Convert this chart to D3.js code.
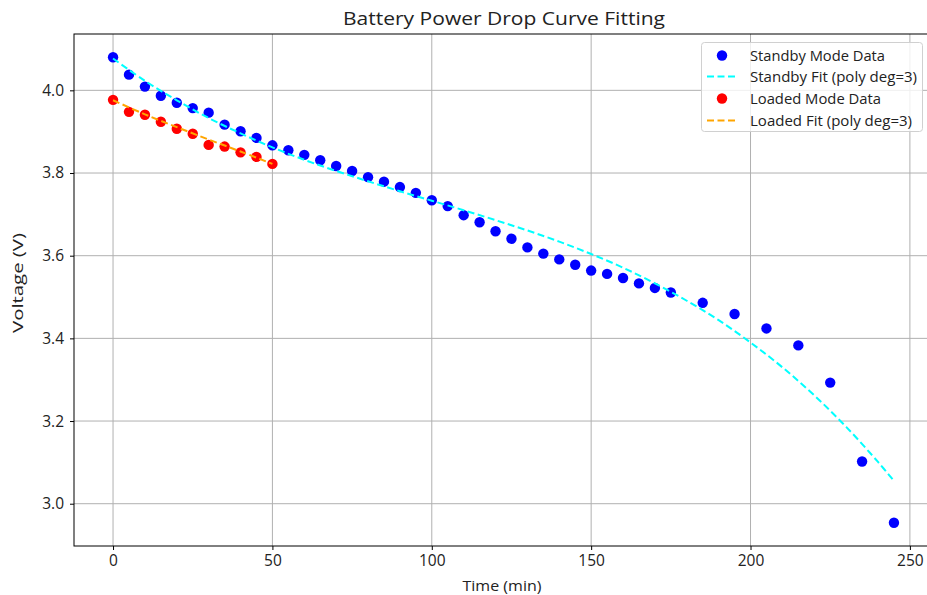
<!DOCTYPE html>
<html>
<head>
<meta charset="utf-8">
<script src="https://cdn.jsdelivr.net/npm/d3@7"></script>
<style>
  html, body { margin: 0; padding: 0; background: #ffffff; }
  svg { display: block; font-family: "Open Sans", "DejaVu Sans", sans-serif; }
</style>
</head>
<body>
<svg id="chart" width="927" height="595"></svg>
<script>
// ---- Data ----
const standbyTime = [0,5,10,15,20,25,30,35,40,45,50,55,60,65,70,75,80,85,90,95,100,105,110,115,120,125,130,135,140,145,150,155,160,165,170,175,185,195,205,215,225,235,245];
const standbyVolt = [4.080,4.038,4.009,3.987,3.970,3.957,3.946,3.917,3.901,3.885,3.867,3.855,3.844,3.831,3.817,3.805,3.790,3.779,3.766,3.752,3.734,3.720,3.698,3.681,3.659,3.641,3.620,3.605,3.591,3.578,3.564,3.556,3.546,3.533,3.522,3.511,3.486,3.459,3.424,3.383,3.293,3.102,2.954];

const loadedTime = [0,5,10,15,20,25,30,35,40,45,50];
const loadedVolt = [3.977,3.948,3.941,3.924,3.907,3.895,3.868,3.864,3.850,3.839,3.822];

// fitted curves
const standbyFitTime = [0,10,20,30,40,50,60,70,80,90,100,110,120,130,140,150,160,170,180,190,200,210,220,230,240,245];
const standbyFitVolt = [4.077,4.023,3.976,3.933,3.896,3.862,3.832,3.805,3.780,3.756,3.733,3.710,3.686,3.661,3.634,3.604,3.571,3.533,3.491,3.444,3.390,3.330,3.262,3.186,3.101,3.055];

const loadedFitTime = [0,10,20,30,40,50];
const loadedFitVolt = [3.976,3.942,3.911,3.881,3.852,3.822];

const xTicks = [0,50,100,150,200,250];
const yTicks = [3.0,3.2,3.4,3.6,3.8,4.0];

const legendLabels = ["Standby Mode Data","Standby Fit (poly deg=3)","Loaded Mode Data","Loaded Fit (poly deg=3)"];

// ---- Layout ----
const svg = d3.select("#chart");
const pL = 74, pR = 933, pT = 34, pB = 546;

const allT = standbyTime.concat(loadedTime);
const allV = standbyVolt.concat(loadedVolt);
const tMin = d3.min(allT), tMax = d3.max(allT);
const vMin = d3.min(allV), vMax = d3.max(allV);
const tPad = (tMax - tMin) * 0.05, vPad = (vMax - vMin) * 0.05;

const x = d3.scaleLinear().domain([tMin - tPad, tMax + tPad]).range([pL, pR]);
const y = d3.scaleLinear().domain([vMin - vPad, vMax + vPad]).range([pB, pT]);

// grid
const grid = svg.append("g");
grid.selectAll("line.gx").data(xTicks).enter().append("line")
  .attr("x1", d => x(d)).attr("x2", d => x(d)).attr("y1", pT).attr("y2", pB)
  .attr("stroke", "#b0b0b0").attr("stroke-width", 1);
grid.selectAll("line.gy").data(yTicks).enter().append("line")
  .attr("x1", pL).attr("x2", pR).attr("y1", d => y(d)).attr("y2", d => y(d))
  .attr("stroke", "#b0b0b0").attr("stroke-width", 1);

// axes
const xAxis = d3.axisBottom(x).tickValues(xTicks).tickSize(4).tickPadding(5).tickFormat(d3.format("d"));
const yAxis = d3.axisLeft(y).tickValues(yTicks).tickSize(4).tickPadding(6).tickFormat(d3.format(".1f"));

const gx = svg.append("g").attr("transform", `translate(0,${pB})`).call(xAxis);
const gy = svg.append("g").attr("transform", `translate(${pL},0)`).call(yAxis);
[gx, gy].forEach(g => {
  g.select(".domain").remove();
  g.selectAll(".tick line").attr("stroke", "#000").attr("stroke-width", 1);
  g.selectAll(".tick text").attr("fill", "#222").style("font-size", "15.5px")
    .style("font-family", "'Open Sans', sans-serif");
});

// frame
svg.append("rect").attr("x", pL).attr("y", pT).attr("width", pR - pL).attr("height", pB - pT)
  .attr("fill", "none").attr("stroke", "#000").attr("stroke-width", 1);

// clip
svg.append("clipPath").attr("id", "clip").append("rect")
  .attr("x", pL).attr("y", pT).attr("width", pR - pL).attr("height", pB - pT);
const plot = svg.append("g").attr("clip-path", "url(#clip)");

const line = d3.line().x(d => x(d[0])).y(d => y(d[1])).curve(d3.curveCatmullRom);

// standby scatter
plot.selectAll("circle.sb").data(d3.zip(standbyTime, standbyVolt)).enter().append("circle")
  .attr("cx", d => x(d[0])).attr("cy", d => y(d[1])).attr("r", 5.2).attr("fill", "#0000ff");
// standby fit
plot.append("path").datum(d3.zip(standbyFitTime, standbyFitVolt)).attr("d", line)
  .attr("fill", "none").attr("stroke", "#00ffff").attr("stroke-width", 2).attr("stroke-dasharray", "7,3.5");
// loaded scatter
plot.selectAll("circle.ld").data(d3.zip(loadedTime, loadedVolt)).enter().append("circle")
  .attr("cx", d => x(d[0])).attr("cy", d => y(d[1])).attr("r", 5.2).attr("fill", "#ff0000");
// loaded fit
plot.append("path").datum(d3.zip(loadedFitTime, loadedFitVolt)).attr("d", line)
  .attr("fill", "none").attr("stroke", "#ffa500").attr("stroke-width", 2).attr("stroke-dasharray", "7,3.5");

// title & labels
svg.append("text").attr("x", 504).attr("y", 25).attr("text-anchor", "middle")
  .style("font-size", "18.5px").attr("fill", "#222")
  .attr("textLength", 322).attr("lengthAdjust", "spacingAndGlyphs")
  .text("Battery Power Drop Curve Fitting");
svg.append("text").attr("x", 502).attr("y", 591).attr("text-anchor", "middle")
  .style("font-size", "15px").attr("fill", "#222")
  .attr("textLength", 79).attr("lengthAdjust", "spacingAndGlyphs")
  .text("Time (min)");
svg.append("text").attr("transform", `translate(23,${283}) rotate(-90)`).attr("text-anchor", "middle")
  .style("font-size", "14.5px").attr("fill", "#222")
  .attr("textLength", 100).attr("lengthAdjust", "spacingAndGlyphs")
  .text("Voltage (V)");

// legend
const lg = svg.append("g");
lg.append("rect").attr("x", 701.5).attr("y", 42.5).attr("width", 221).attr("height", 89).attr("rx", 3)
  .attr("fill", "rgba(255,255,255,0.8)").attr("stroke", "#d0d0d0").attr("stroke-width", 1);
const rowY = [55.5, 76.5, 98.5, 120.5];
const legendWidths = [135, 167, 131, 162];
const kinds = [
  {type: "dot", color: "#0000ff"},
  {type: "line", color: "#00ffff"},
  {type: "dot", color: "#ff0000"},
  {type: "line", color: "#ffa500"}
];
kinds.forEach((k, i) => {
  if (k.type === "dot") {
    lg.append("circle").attr("cx", 722).attr("cy", rowY[i]).attr("r", 5.2).attr("fill", k.color);
  } else {
    lg.append("line").attr("x1", 707).attr("x2", 738).attr("y1", rowY[i]).attr("y2", rowY[i])
      .attr("stroke", k.color).attr("stroke-width", 2).attr("stroke-dasharray", "7,3.5");
  }
  lg.append("text").attr("x", 750).attr("y", rowY[i]).attr("dy", "0.35em")
    .style("font-size", "14.5px").attr("fill", "#222")
    .attr("textLength", legendWidths[i]).attr("lengthAdjust", "spacingAndGlyphs")
    .text(legendLabels[i]);
});
</script>
</body>
</html>
